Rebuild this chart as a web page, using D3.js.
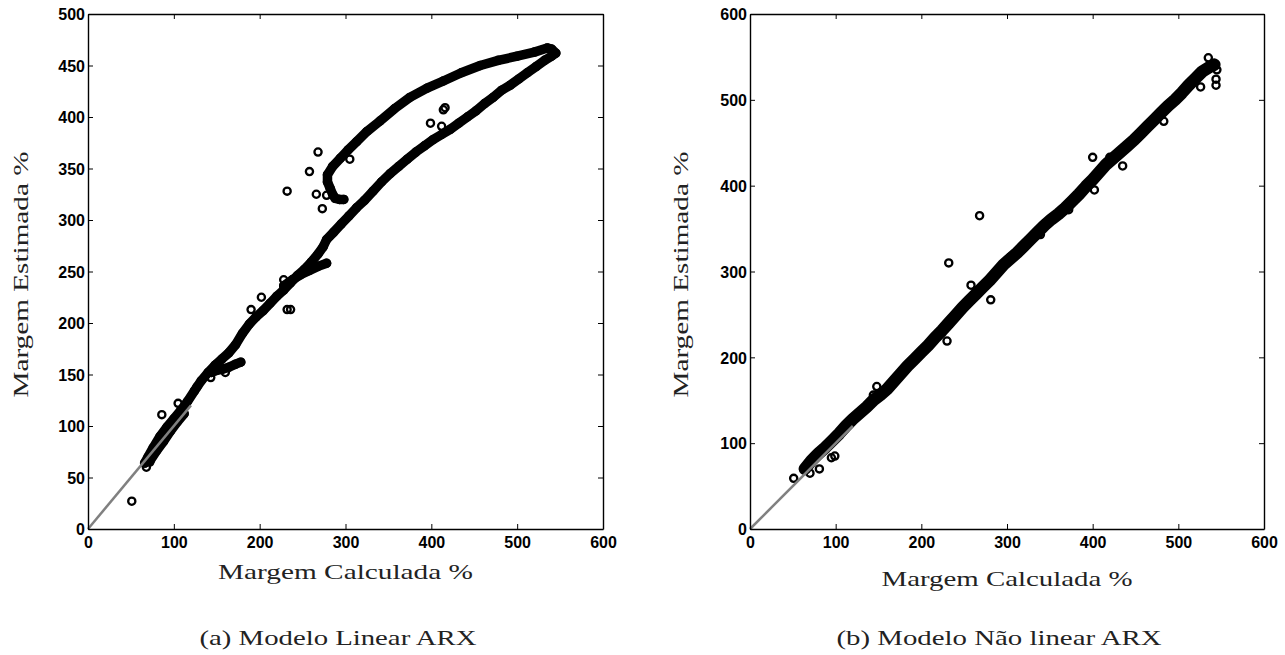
<!DOCTYPE html>
<html>
<meta charset="utf-8">

<head>
    <style>
        body {
            margin: 0;
            background: #fff;
        }

        .axis-title,
        .caption {
            font-family: "Liberation Serif", "DejaVu Serif", serif;
            font-size: 22px;
            fill: #222;
        }
    </style>
</head>

<body>
    <div id="chart"></div>
    <script src="https://d3js.org/d3.v7.min.js"></script>

    <script>
        // tick values
        const xTicks = [0, 100, 200, 300, 400, 500, 600];
        const linYTicks = [0, 50, 100, 150, 200, 250, 300, 350, 400, 450, 500];
        const nlYTicks = [0, 100, 200, 300, 400, 500, 600];

        // reference line (gray)
        const refLine = [[0, 0], [120, 120]];

        // (a) linear ARX - main trajectory
        const linMain = [[66, 64], [70, 70], [76, 79], [84, 90], [92, 99], [100, 107], [108, 115], [116, 124],
            [124, 134], [132, 144], [140, 152], [148, 159], [156, 165], [164, 171], [172, 179], [180, 190],
            [188, 199], [196, 206], [204, 212], [212, 219], [220, 226], [228, 232], [236, 239], [244, 246],
            [252, 252], [260, 259], [268, 267], [274, 274], [278, 281], [286, 288], [295, 296], [304, 304],
            [313, 312], [322, 319], [332, 328], [342, 337], [352, 345], [362, 352], [372, 359], [382, 366],
            [392, 372], [402, 378], [412, 383], [422, 388], [432, 394], [442, 400], [452, 406], [462, 413],
            [472, 419], [482, 426], [492, 431], [502, 437], [512, 443], [522, 449], [532, 455], [540, 459],
            [545, 462], [540, 466], [535, 467], [520, 463], [500, 459], [478, 455], [457, 450], [435, 443],
            [414, 435], [395, 428], [375, 419], [357, 408], [340, 396], [325, 386], [313, 376], [303, 368],
            [294, 360], [285, 352], [279, 344], [279, 337], [282, 331], [285, 325], [288, 321], [293, 320],
            [298, 320]];
        // (a) shorter side strands of the trajectory
        const linStrandLow = [[72, 66], [80, 76], [88, 85], [96, 95], [104, 104], [112, 112]];
        const linStrandMid = [[144, 152], [150, 154], [156, 155], [164, 157], [172, 160], [178, 162]];
        const linStrandHigh = [[228, 236], [238, 242], [248, 247], [258, 251], [268, 255], [278, 258]];
        // (a) isolated points
        const linOutliers = [[51, 27], [68, 60], [72, 65], [86, 111], [105, 122], [127, 138], [190, 213],
            [202, 225], [228, 242], [232, 213], [236, 213], [232, 328], [258, 347], [268, 366], [266, 325],
            [278, 324], [273, 311], [305, 359], [399, 394], [412, 391], [416, 409], [414, 407],
            [150, 160], [160, 152], [143, 147]];

        // (b) non linear ARX - main trajectory
        const nlMain = [[64, 70], [72, 80], [80, 88], [88, 95], [96, 103], [104, 111], [112, 120], [120, 128],
            [128, 135], [136, 142], [144, 150], [152, 156], [160, 163], [168, 172], [176, 181], [184, 190],
            [192, 198], [200, 206], [208, 214], [216, 223], [224, 231], [232, 240], [240, 249], [248, 258],
            [256, 266], [264, 274], [272, 282], [280, 290], [288, 299], [296, 308], [304, 315], [312, 322],
            [320, 330], [328, 338], [336, 346], [344, 354], [352, 361], [360, 367], [368, 374], [376, 382],
            [384, 390], [392, 399], [400, 407], [408, 416], [416, 425], [424, 432], [432, 439], [440, 446],
            [448, 453], [456, 461], [464, 469], [472, 477], [480, 485], [488, 493], [496, 500], [504, 508],
            [512, 517], [520, 525], [528, 533], [536, 538], [542, 541]];
        // (b) isolated points
        const nlOutliers = [[51, 59], [70, 65], [81, 70], [95, 83], [99, 85], [144, 156], [148, 166],
            [230, 219], [232, 310], [258, 284], [266, 276], [281, 267], [268, 365], [304, 317], [400, 433],
            [420, 433], [435, 423], [402, 395], [483, 475], [526, 515], [535, 549], [544, 524], [544, 517],
            [540, 540], [545, 535], [138, 144], [339, 343], [372, 372], [452, 455]];

        const W = 1285, H = 655;

        const svg = d3.select("#chart")
            .append("svg")
            .attr("width", W)
            .attr("height", H);

        function drawPanel(p) {
            var x = d3.scaleLinear().domain([0, 600]).range([p.left, p.right]);
            var y = d3.scaleLinear().domain([0, p.yMax]).range([p.bottom, p.top]);
            var g = svg.append("g");

            var line = d3.line()
                .x(function (d) { return x(d[0]); })
                .y(function (d) { return y(d[1]); });

            // dense trajectory drawn as a thick band plus its markers
            p.bands.forEach(function (b) {
                g.append("path")
                    .datum(b)
                    .attr("d", line)
                    .attr("fill", "none")
                    .attr("stroke", "#000")
                    .attr("stroke-width", p.bandWidth)
                    .attr("stroke-linecap", "round")
                    .attr("stroke-linejoin", "round");
                g.selectAll(null)
                    .data(b)
                    .join("circle")
                    .attr("cx", function (d) { return x(d[0]); })
                    .attr("cy", function (d) { return y(d[1]); })
                    .attr("r", 3.6)
                    .attr("fill", "none")
                    .attr("stroke", "#000")
                    .attr("stroke-width", 2.3);
            });

            g.selectAll(null)
                .data(p.outliers)
                .join("circle")
                .attr("cx", function (d) { return x(d[0]); })
                .attr("cy", function (d) { return y(d[1]); })
                .attr("r", 3.6)
                .attr("fill", "none")
                .attr("stroke", "#000")
                .attr("stroke-width", 2.3);

            // gray reference
            g.append("path")
                .datum(refLine)
                .attr("d", line)
                .attr("stroke", "#808080")
                .attr("stroke-width", 2.5)
                .attr("fill", "none");

            // axes, MATLAB style: inward ticks on all sides
            var bottom = g.append("g")
                .attr("transform", "translate(0," + p.bottom + ")")
                .call(d3.axisBottom(x).tickValues(xTicks).tickSizeInner(-5).tickSizeOuter(0).tickPadding(7));
            var left = g.append("g")
                .attr("transform", "translate(" + p.left + ",0)")
                .call(d3.axisLeft(y).tickValues(p.yTicks).tickSizeInner(-5).tickSizeOuter(0).tickPadding(3));
            g.append("g")
                .attr("transform", "translate(0," + p.top + ")")
                .call(d3.axisTop(x).tickValues(xTicks).tickSizeInner(-5).tickSizeOuter(0).tickFormat(""));
            g.append("g")
                .attr("transform", "translate(" + p.right + ",0)")
                .call(d3.axisRight(y).tickValues(p.yTicks).tickSizeInner(-5).tickSizeOuter(0).tickFormat(""));

            g.selectAll(".domain").attr("stroke", "#000").attr("stroke-width", 1.4);
            g.selectAll(".tick line").attr("stroke", "#000").attr("stroke-width", 1);
            g.selectAll(".tick text")
                .attr("font-family", "'Liberation Sans', Arial, sans-serif")
                .attr("font-weight", "bold")
                .attr("font-size", 16)
                .attr("fill", "#000");
            bottom.selectAll("text").attr("dy", "0.72em");
            left.selectAll("text").attr("dy", "0.36em");

            g.append("text")
                .attr("class", "axis-title")
                .attr("x", (p.left + p.right) / 2)
                .attr("y", p.xTitleY)
                .attr("text-anchor", "middle")
                .attr("textLength", p.xTitleLen)
                .attr("lengthAdjust", "spacingAndGlyphs")
                .text("Margem Calculada %");

            g.append("text")
                .attr("class", "axis-title")
                .attr("transform", "translate(" + p.yTitleX + "," + ((p.top + p.bottom) / 2 + 3) + ") rotate(-90)")
                .attr("text-anchor", "middle")
                .attr("textLength", 246)
                .attr("lengthAdjust", "spacingAndGlyphs")
                .text("Margem Estimada %");

            g.append("text")
                .attr("class", "caption")
                .attr("x", p.capX)
                .attr("y", 645)
                .attr("text-anchor", "middle")
                .attr("textLength", p.capLen)
                .attr("lengthAdjust", "spacingAndGlyphs")
                .text(p.caption);
        }

        drawPanel({
            left: 88, right: 603, top: 14, bottom: 529, yMax: 500, yTicks: linYTicks,
            bands: [linMain, linStrandLow, linStrandMid, linStrandHigh], bandWidth: 9.5,
            outliers: linOutliers,
            xTitleY: 579, xTitleLen: 255, yTitleX: 28,
            capX: 338, capLen: 277, caption: "(a) Modelo Linear ARX"
        });

        drawPanel({
            left: 750, right: 1264, top: 14, bottom: 529, yMax: 600, yTicks: nlYTicks,
            bands: [nlMain], bandWidth: 12.5,
            outliers: nlOutliers,
            xTitleY: 586, xTitleLen: 251, yTitleX: 688,
            capX: 999, capLen: 325, caption: "(b) Modelo Não linear ARX"
        });
    </script>

</body>

</html>
